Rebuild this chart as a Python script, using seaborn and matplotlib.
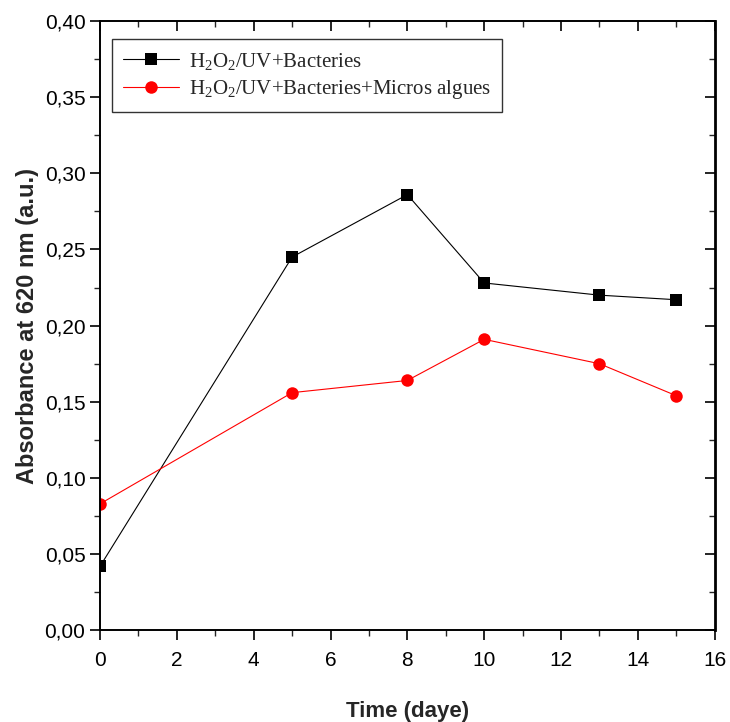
import matplotlib
matplotlib.use("Agg")
import matplotlib.pyplot as plt
import seaborn as sns
import pandas as pd
from matplotlib.ticker import MultipleLocator, FuncFormatter

# data
days = [0, 5, 8, 10, 13, 15]
bacteries = [0.042, 0.245, 0.286, 0.228, 0.220, 0.217]
bacteries_algues = [0.083, 0.156, 0.164, 0.191, 0.175, 0.154]
label_a = "H$_2$O$_2$/UV+Bacteries"
label_b = "H$_2$O$_2$/UV+Bacteries+Micros algues"

df = pd.DataFrame({
    "day": days * 2,
    "abs": bacteries + bacteries_algues,
    "serie": [label_a] * len(days) + [label_b] * len(days),
})

sns.set_style("ticks")
plt.rcParams["font.family"] = ["Liberation Sans", "DejaVu Sans"]
plt.rcParams["mathtext.fontset"] = "custom"
plt.rcParams["mathtext.rm"] = "Liberation Serif"
plt.rcParams["mathtext.it"] = "Liberation Serif:italic"

fig = plt.figure(figsize=(7.3, 7.22), dpi=100)
ax = fig.add_axes([0.137, 0.127, 0.842, 0.844])

sns.lineplot(data=df, x="day", y="abs", hue="serie", style="serie",
             palette={label_a: "black", label_b: "red"},
             markers={label_a: "s", label_b: "o"}, dashes=False,
             markersize=9, markeredgewidth=0, linewidth=0.8, ax=ax)

ax.set_xlim(0, 16)
ax.set_ylim(0, 0.40)
ax.xaxis.set_major_locator(MultipleLocator(2))
ax.xaxis.set_minor_locator(MultipleLocator(1))
ax.yaxis.set_major_locator(MultipleLocator(0.05))
ax.yaxis.set_minor_locator(MultipleLocator(0.025))
ax.yaxis.set_major_formatter(FuncFormatter(lambda v, p: f"{v:.2f}".replace(".", ",")))

ax.tick_params(axis="both", which="major", direction="out", length=7, width=1.2,
               labelsize=15, colors="black", top=True, right=True)
ax.tick_params(axis="both", which="minor", direction="out", length=4, width=1.0,
               top=True, right=True)
ax.tick_params(axis="x", which="major", pad=8)
ax.tick_params(axis="x", which="both", labeltop=False)
for side in ["top", "right"]:
    ax.spines[side].set_visible(True)
for s in ax.spines.values():
    s.set_linewidth(1.4)
    s.set_color("black")
ax.spines["right"].set_linewidth(2.0)
# top and right ticks inward
for t in ax.xaxis.get_major_ticks() + ax.xaxis.get_minor_ticks():
    t.tick2line.set_marker(3)
for t in ax.yaxis.get_major_ticks() + ax.yaxis.get_minor_ticks():
    t.tick2line.set_marker(0)

ax.set_xlabel("Time (daye)", fontsize=16, fontweight="bold", labelpad=22)
ax.set_ylabel("Absorbance at 620 nm (a.u.)", fontsize=17, fontweight="bold", labelpad=4)

leg = ax.legend(loc="upper left", bbox_to_anchor=(0.019, 0.970), borderaxespad=0,
                frameon=True, fancybox=False, edgecolor="black",
                prop={"family": "Liberation Serif", "size": 15},
                handlelength=2.7, handletextpad=0.45, borderpad=0.55,
                labelspacing=0.3)
leg.get_frame().set_linewidth(1.0)

fig.savefig("out.png", dpi=100)
